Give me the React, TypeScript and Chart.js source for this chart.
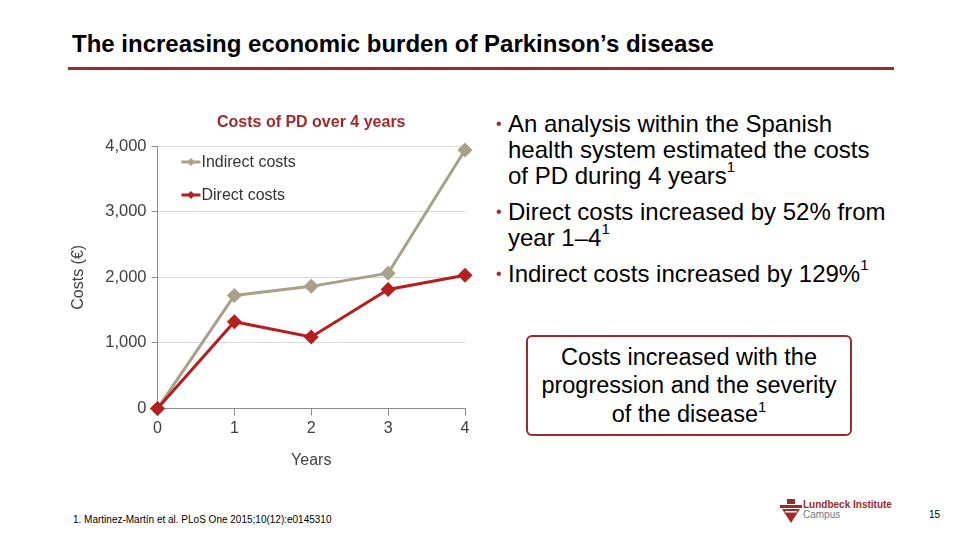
import React, { useEffect, useRef } from "react";
import { Chart, registerables } from "chart.js";

Chart.register(...registerables);

const years = [0, 1, 2, 3, 4];
const indirectCosts = [0, 1723, 1862, 2062, 3938];
const directCosts = [0, 1323, 1092, 1815, 2031];
const yTicks = [0, 1000, 2000, 3000, 4000];
const seriesNames = ["Indirect costs", "Direct costs"];
const chartTitle = "Costs of PD over 4 years";

const INDIRECT = "#a8a089";
const DIRECT = "#b41f1f";
const DARKRED = "#9e2a2b";
const FONT = "'Liberation Sans', Arial, sans-serif";

const legendPlugin = {
  id: "insideLegend",
  afterDraw(chart: any) {
    const { ctx, chartArea } = chart;
    const items = [
      { label: seriesNames[0], color: INDIRECT, dy: 16 },
      { label: seriesNames[1], color: DIRECT, dy: 49 },
    ];
    ctx.save();
    // title centred over plot area
    ctx.fillStyle = DARKRED;
    ctx.font = `bold 16px ${FONT}`;
    ctx.textAlign = "center";
    ctx.textBaseline = "middle";
    ctx.fillText(chartTitle, (chartArea.left + chartArea.right) / 2, chartArea.top - 23);
    items.forEach((it) => {
      const y = chartArea.top + it.dy;
      const x0 = chartArea.left + 24;
      const x1 = chartArea.left + 43;
      ctx.strokeStyle = it.color;
      ctx.lineWidth = 3;
      ctx.beginPath();
      ctx.moveTo(x0, y);
      ctx.lineTo(x1, y);
      ctx.stroke();
      const cx = (x0 + x1) / 2;
      ctx.fillStyle = it.color;
      ctx.beginPath();
      ctx.moveTo(cx, y - 4);
      ctx.lineTo(cx + 4, y);
      ctx.lineTo(cx, y + 4);
      ctx.lineTo(cx - 4, y);
      ctx.closePath();
      ctx.fill();
      ctx.fillStyle = "#333";
      ctx.font = `16px ${FONT}`;
      ctx.textBaseline = "middle";
      ctx.textAlign = "left";
      ctx.fillText(it.label, x1 + 1, y + 1);
    });
    ctx.restore();
  },
};

function CostChart() {
  const ref = useRef<HTMLCanvasElement>(null);
  useEffect(() => {
    if (!ref.current) return;
    const chart = new Chart(ref.current, {
      type: "line",
      data: {
        datasets: [
          {
            label: seriesNames[1],
            data: years.map((x, i) => ({ x, y: directCosts[i] })),
            borderColor: DIRECT,
            backgroundColor: DIRECT,
            borderWidth: 3,
            pointStyle: "rectRot",
            pointRadius: 7.5,
            pointBorderWidth: 0,
            order: 0,
          },
          {
            label: seriesNames[0],
            data: years.map((x, i) => ({ x, y: indirectCosts[i] })),
            borderColor: INDIRECT,
            backgroundColor: INDIRECT,
            borderWidth: 3,
            pointStyle: "rectRot",
            pointRadius: 7.5,
            pointBorderWidth: 0,
            order: 1,
          },
        ],
      },
      options: {
        responsive: false,
        animation: false,
        clip: false,
        layout: { padding: { left: 7, right: 15, top: 46, bottom: 10 } },
        plugins: {
          legend: { display: false },
          tooltip: { enabled: false },
          title: { display: false },
        },
        scales: {
          x: {
            type: "linear",
            min: 0,
            max: 4,
            ticks: {
              stepSize: 1,
              color: "#404040",
              font: { family: FONT, size: 16 },
              padding: 3,
            },
            grid: { drawOnChartArea: false, tickLength: 7, tickColor: "#8c8c8c" },
            border: { color: "#8c8c8c", width: 1 },
            title: {
              display: true,
              text: "Years",
              color: "#404040",
              font: { family: FONT, size: 16 },
              padding: { top: 10, bottom: 0 },
            },
          },
          y: {
            min: 0,
            max: 4000,
            afterBuildTicks: (axis: any) => {
              axis.ticks = yTicks.map((v) => ({ value: v }));
            },
            ticks: {
              color: "#404040",
              font: { family: FONT, size: 16.5 },
              padding: 5,
              callback: (v: any) => Number(v).toLocaleString("en-US"),
            },
            grid: { color: "#d9d9d9", tickLength: 6, tickColor: "#8c8c8c" },
            border: { color: "#8c8c8c", width: 1 },
            title: {
              display: true,
              text: "Costs (€)",
              color: "#404040",
              font: { family: FONT, size: 16 },
              padding: { top: 2, bottom: 12 },
            },
          },
        },
      },
      plugins: [legendPlugin],
    } as any);
    return () => chart.destroy();
  }, []);
  return <canvas ref={ref} width={420} height={380} />;
}

const bullets = [
  ["An analysis within the Spanish", "health system estimated the costs", "of PD during 4 years"],
  ["Direct costs increased by 52% from", "year 1–4"],
  ["Indirect costs increased by 129%"],
];

export default function App() {
  return (
    <div
      style={{
        position: "fixed",
        left: 0,
        top: 0,
        width: 960,
        height: 540,
        background: "#fff",
        fontFamily: FONT,
        overflow: "hidden",
      }}
    >
      <div style={{ position: "absolute", left: 72, top: 30, fontSize: 24, fontWeight: "bold", color: "#000", whiteSpace: "nowrap" }}>
        The increasing economic burden of Parkinson’s disease
      </div>
      <div style={{ position: "absolute", left: 68, top: 67, width: 826, height: 3, background: DARKRED }} />

      <div style={{ position: "absolute", left: 60, top: 100, width: 420, height: 380 }}>
        <CostChart />
      </div>

      <div style={{ position: "absolute", left: 496, top: 111, width: 440, fontSize: 24, color: "#000", lineHeight: "26px" }}>
        {bullets.map((b, i) => (
          <div key={i} style={{ position: "relative", paddingLeft: 12, marginBottom: 10 }}>
            <span style={{ position: "absolute", left: 0, top: 0, color: DARKRED, fontSize: 16 }}>•</span>
            {b.map((line, j) => (
              <div key={j} style={{ whiteSpace: "nowrap" }}>
                {line}
                {j === b.length - 1 ? <sup style={{ fontSize: 15, verticalAlign: "top", lineHeight: "14px", position: "relative", top: -3 }}>1</sup> : null}
              </div>
            ))}
          </div>
        ))}
      </div>

      <div
        style={{
          position: "absolute",
          left: 526,
          top: 335,
          width: 322,
          height: 97,
          border: `2px solid ${DARKRED}`,
          borderRadius: 6,
          display: "flex",
          flexDirection: "column",
          justifyContent: "center",
          alignItems: "center",
          fontSize: 23.5,
          lineHeight: "28.5px",
          color: "#000",
          textAlign: "center",
        }}
      >
        <div style={{ whiteSpace: "nowrap" }}>Costs increased with the</div>
        <div style={{ whiteSpace: "nowrap" }}>progression and the severity</div>
        <div style={{ whiteSpace: "nowrap" }}>
          of the disease
          <sup style={{ fontSize: 15, verticalAlign: "top", lineHeight: "14px", position: "relative", top: 0 }}>1</sup>
        </div>
      </div>

      <div style={{ position: "absolute", left: 73, top: 514, fontSize: 10, color: "#000", whiteSpace: "nowrap" }}>
        1. Martinez-Martín et al. PLoS One 2015;10(12):e0145310
      </div>

      <svg style={{ position: "absolute", left: 780, top: 499 }} width={22} height={24} viewBox="0 0 22 24">
        <rect x={7} y={0} width={8} height={5} fill={DARKRED} />
        <rect x={0} y={6} width={22} height={3} fill={DARKRED} />
        <polygon points="2,10 20,10 11,24" fill={DARKRED} />
        <rect x={5} y={12} width={12} height={1.5} fill="#fff" />
      </svg>
      <div style={{ position: "absolute", left: 803, top: 499, fontSize: 10, fontWeight: "bold", color: DARKRED, whiteSpace: "nowrap" }}>
        Lundbeck Institute
      </div>
      <div style={{ position: "absolute", left: 803, top: 509, fontSize: 10, color: "#777", whiteSpace: "nowrap" }}>
        Campus
      </div>
      <div style={{ position: "absolute", left: 929, top: 509, fontSize: 10, color: "#000" }}>15</div>
    </div>
  );
}
